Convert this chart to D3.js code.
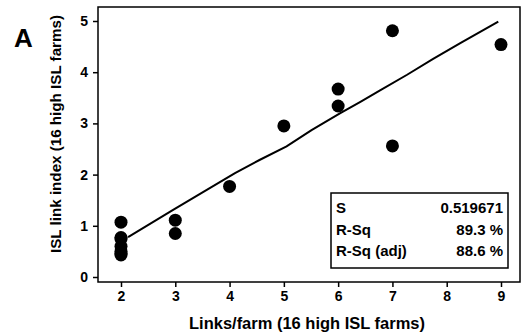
<!DOCTYPE html>
<html>
<head>
<meta charset="utf-8">
<script src="https://cdn.jsdelivr.net/npm/d3@7"></script>
<style>
  body { margin: 0; background: #fff; }
  svg { display: block; font-family: "Liberation Sans", Arial, sans-serif; font-weight: bold; }
</style>
</head>
<body>
<div id="chart"></div>
<script>
// links per farm vs ISL link index, 16 farms
const linksPerFarm = [2, 2, 2, 2, 2, 2, 2, 3, 3, 4, 5, 6, 6, 7, 7, 9];
const linkIndex = [1.07, 0.77, 0.74, 0.6, 0.5, 0.46, 0.43, 1.11, 0.85, 1.77, 2.95, 3.67, 3.34, 4.81, 2.56, 4.54];

// fitted line
const fitX = [2.13, 2.96, 3.58, 4.1, 4.56, 5.05, 5.51, 6.04, 6.41, 6.78, 7.27, 7.75, 8.25, 8.95];
const fitY = [0.78, 1.31, 1.7, 2.03, 2.29, 2.55, 2.87, 3.2, 3.42, 3.65, 3.95, 4.26, 4.57, 4.99];

const xTicks = [2, 3, 4, 5, 6, 7, 8, 9];
const yTicks = [0, 1, 2, 3, 4, 5];

const statLabels = ['S', 'R-Sq', 'R-Sq (adj)'];
const statValues = ['0.519671', '89.3 %', '88.6 %'];

const width = 528, height = 336;

const svg = d3.select('#chart').append('svg')
  .attr('width', width)
  .attr('height', height);

const x = d3.scaleLinear().domain([2, 9]).range([121, 501]);
const y = d3.scaleLinear().domain([0, 5]).range([277, 21]);

// frame
svg.append('rect')
  .attr('x', 98).attr('y', 7)
  .attr('width', 422).attr('height', 275)
  .attr('fill', 'none')
  .attr('stroke', '#000')
  .attr('stroke-width', 1.5);

// axes
const xAxis = svg.append('g')
  .attr('transform', 'translate(0,282)')
  .call(d3.axisBottom(x).tickValues(xTicks).tickSize(5).tickPadding(4).tickFormat(d3.format('d')));
xAxis.select('.domain').remove();

const yAxis = svg.append('g')
  .attr('transform', 'translate(98,0)')
  .call(d3.axisLeft(y).tickValues(yTicks).tickSize(5).tickPadding(5).tickFormat(d3.format('d')));
yAxis.select('.domain').remove();

svg.selectAll('.tick line').attr('stroke', '#000').attr('stroke-width', 1.5);
svg.selectAll('.tick text')
  .attr('fill', '#000')
  .style('font-size', '14px')
  .style('font-weight', 'bold')
  .style('font-family', '"Liberation Sans", Arial, sans-serif');

// axis titles
svg.append('text')
  .attr('x', 307).attr('y', 329)
  .attr('text-anchor', 'middle')
  .attr('textLength', 236)
  .attr('lengthAdjust', 'spacingAndGlyphs')
  .style('font-size', '17px')
  .text('Links/farm (16 high ISL farms)');

svg.append('text')
  .attr('transform', 'translate(61,134) rotate(-90)')
  .attr('text-anchor', 'middle')
  .attr('textLength', 238)
  .attr('lengthAdjust', 'spacingAndGlyphs')
  .style('font-size', '15.5px')
  .text('ISL link index (16 high ISL farms)');

// panel letter
svg.append('text')
  .attr('x', 14).attr('y', 47)
  .style('font-size', '26px')
  .text('A');

// fitted line
const fitData = fitX.map((v, i) => [v, fitY[i]]);
svg.append('path')
  .datum(fitData)
  .attr('fill', 'none')
  .attr('stroke', '#000')
  .attr('stroke-width', 2)
  .attr('d', d3.line().x(d => x(d[0])).y(d => y(d[1])));

// points
svg.append('g').selectAll('circle')
  .data(linksPerFarm.map((v, i) => [v, linkIndex[i]]))
  .join('circle')
  .attr('cx', d => x(d[0]))
  .attr('cy', d => y(d[1]))
  .attr('r', 6.5)
  .attr('fill', '#000');

// stats box
const box = svg.append('g');
box.append('rect')
  .attr('x', 331).attr('y', 193)
  .attr('width', 177).attr('height', 75)
  .attr('fill', '#fff')
  .attr('stroke', '#000')
  .attr('stroke-width', 1.5);

const rowY = [213, 235, 256];
box.selectAll('text.lab')
  .data(statLabels)
  .join('text')
  .attr('class', 'lab')
  .attr('x', 336)
  .attr('y', (d, i) => rowY[i])
  .style('font-size', '15px')
  .text(d => d);

box.selectAll('text.val')
  .data(statValues)
  .join('text')
  .attr('class', 'val')
  .attr('x', 503)
  .attr('y', (d, i) => rowY[i])
  .attr('text-anchor', 'end')
  .style('font-size', '15px')
  .text(d => d);
</script>
</body>
</html>
